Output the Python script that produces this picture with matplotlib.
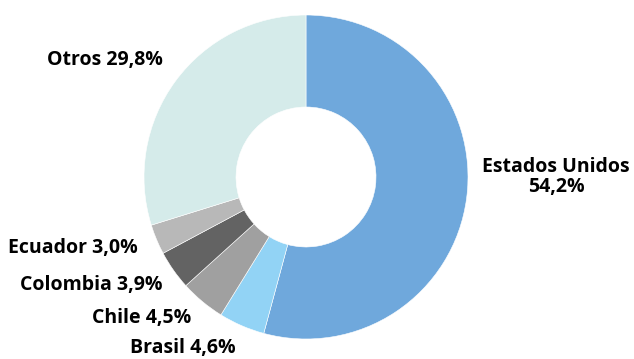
import matplotlib
matplotlib.use("Agg")
import matplotlib.pyplot as plt

labels = ["Estados Unidos\n54,2%", "Brasil 4,6%", "Chile 4,5%", "Colombia 3,9%", "Ecuador 3,0%", "Otros 29,8%"]
values = [54.2, 4.6, 4.5, 3.9, 3.0, 29.8]
colors = ["#6FA8DC", "#92D3F5", "#A0A0A0", "#636363", "#B8B8B8", "#D5EBEA"]

W, H = 634, 359
fig = plt.figure(figsize=(W / 100, H / 100), dpi=100)
cx, cy, r = 306, 177, 162
ax = fig.add_axes([(cx - r) / W, (H - cy - r) / H, 2 * r / W, 2 * r / H])
ax.pie(values, colors=colors, startangle=90, counterclock=False, radius=1,
       wedgeprops=dict(width=1 - 70 / 162, edgecolor="white", linewidth=0.4))
ax.set_xlim(-1, 1)
ax.set_ylim(-1, 1)
ax.set_aspect("equal")
ax.axis("off")

def px(x, y):
    return ((x - cx) / r, (cy - y) / r)

font = dict(family=["Open Sans", "DejaVu Sans"], fontweight="bold", fontsize=14, color="black")
pos = [
    (px(556, 177), "center"),
    (px(236, 348), "right"),
    (px(191, 318), "right"),
    (px(163, 285), "right"),
    (px(138, 248), "right"),
    (px(163, 60), "right"),
]
for lab, (xy, ha) in zip(labels, pos):
    ax.text(xy[0], xy[1], lab, ha=ha, va="center", multialignment="center",
            clip_on=False, linespacing=1.0, **font)

fig.savefig("out.png", dpi=100)
